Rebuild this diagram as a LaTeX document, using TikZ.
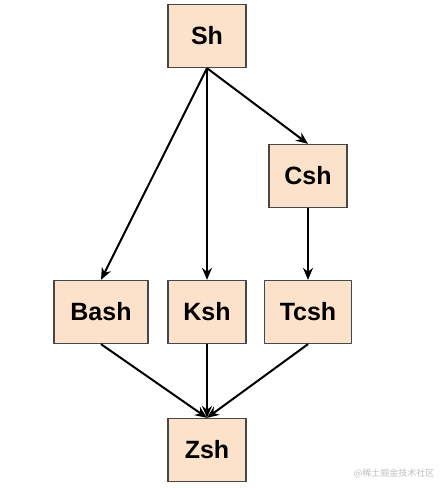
\documentclass[tikz,border=0pt]{standalone}
\usepackage{fontspec}
\setmainfont{Liberation Sans}
\newfontfamily\cjk{Noto Sans CJK SC}
\usetikzlibrary{arrows.meta}
\definecolor{shellfill}{HTML}{FCE2CA}
\definecolor{shelldraw}{HTML}{474747}
\begin{document}
\begin{tikzpicture}[x=1pt,y=-1pt,
  shell/.style={draw=shelldraw,line width=1.3pt,fill=shellfill,minimum width=78pt,minimum height=63pt,inner sep=0pt,font=\fontsize{25}{29}\selectfont\bfseries},
  link/.style={line width=2pt,-{Stealth[length=12pt,width=10pt]}}]
  \useasboundingbox (0,0) rectangle (441,488);
  \node[shell] (sh) at (207,36) {Sh};
  \node[shell] (csh) at (308,176) {Csh};
  \node[shell,minimum width=94pt] (bash) at (101,312) {Bash};
  \node[shell] (ksh) at (207,312) {Ksh};
  \node[shell,minimum width=87pt] (tcsh) at (308,312) {Tcsh};
  \node[shell] (zsh) at (207,450) {Zsh};
  % edges
  \draw[link] (sh.south) -- (bash.north);
  \draw[link] (sh.south) -- (ksh.north);
  \draw[link] (sh.south) -- (csh.north);
  \draw[link] (csh.south) -- (tcsh.north);
  \draw[link] (bash.south) -- (zsh.north);
  \draw[link] (ksh.south) -- (zsh.north);
  \draw[link] (tcsh.south) -- (zsh.north);
  \node[text=black!25,font=\cjk\fontsize{9}{10}\selectfont,anchor=east] (mark) at (438,473) {@稀土掘金技术社区};
\end{tikzpicture}
\end{document}
